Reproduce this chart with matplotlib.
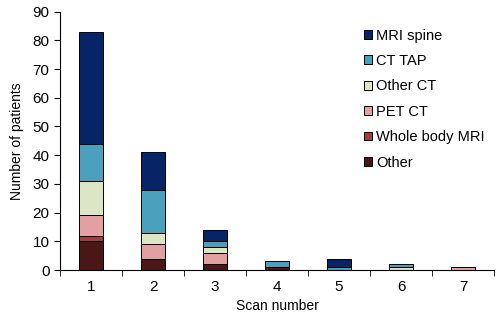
import matplotlib.pyplot as plt
import numpy as np

plt.rcParams['font.family'] = ['Liberation Sans', 'DejaVu Sans']

scans = [1, 2, 3, 4, 5, 6, 7]
other = [10, 4, 2, 1, 0, 0, 0]
whole_body_mri = [2, 0, 0, 0, 0, 0, 0]
pet_ct = [7, 5, 4, 0, 0, 0, 1]
other_ct = [12, 4, 2, 0, 0, 1, 0]
ct_tap = [13, 15, 2, 2, 1, 1, 0]
mri_spine = [39, 13, 4, 0, 3, 0, 0]

series = [('Other', other, '#4a1616'),
          ('Whole body MRI', whole_body_mri, '#a23c3e'),
          ('PET CT', pet_ct, '#e3a0a2'),
          ('Other CT', other_ct, '#dce6c4'),
          ('CT TAP', ct_tap, '#4aa0bd'),
          ('MRI spine', mri_spine, '#062466')]

fig = plt.figure(figsize=(5, 3.23), dpi=100)
ax = fig.add_axes([0.12, 0.164, 0.868, 0.8])

x = np.array(scans)
bottom = np.zeros(len(scans))
handles = []
for name, vals, col in series:
    b = ax.bar(x, vals, 0.4, bottom=bottom, color=col, edgecolor='black', linewidth=0.7, label=name)
    bottom += np.array(vals)
    handles.append(b)

ax.set_xlim(0.5, 7.5)
ax.set_ylim(0, 90)
ax.set_yticks(range(0, 91, 10))
ax.set_xticks(x)
ax.set_xticks(np.arange(0.5, 7.6, 1), minor=True)
ax.tick_params(axis='x', which='major', length=0, labelsize=11, pad=7)
ax.tick_params(axis='x', which='minor', length=4, direction='out')
ax.tick_params(axis='y', labelsize=11, length=4, direction='out')
ax.spines['top'].set_visible(False)
ax.spines['right'].set_visible(False)
ax.set_xlabel('Scan number', fontsize=10)
ax.set_ylabel('Number of patients', fontsize=10, labelpad=6)

ax.legend(handles[::-1], [s[0] for s in series][::-1], loc='upper left',
          bbox_to_anchor=(0.67, 0.985), frameon=False, fontsize=10.5,
          handlelength=0.55, handleheight=0.55, handletextpad=0.3, labelspacing=0.78)

fig.savefig('out.png', dpi=100)
